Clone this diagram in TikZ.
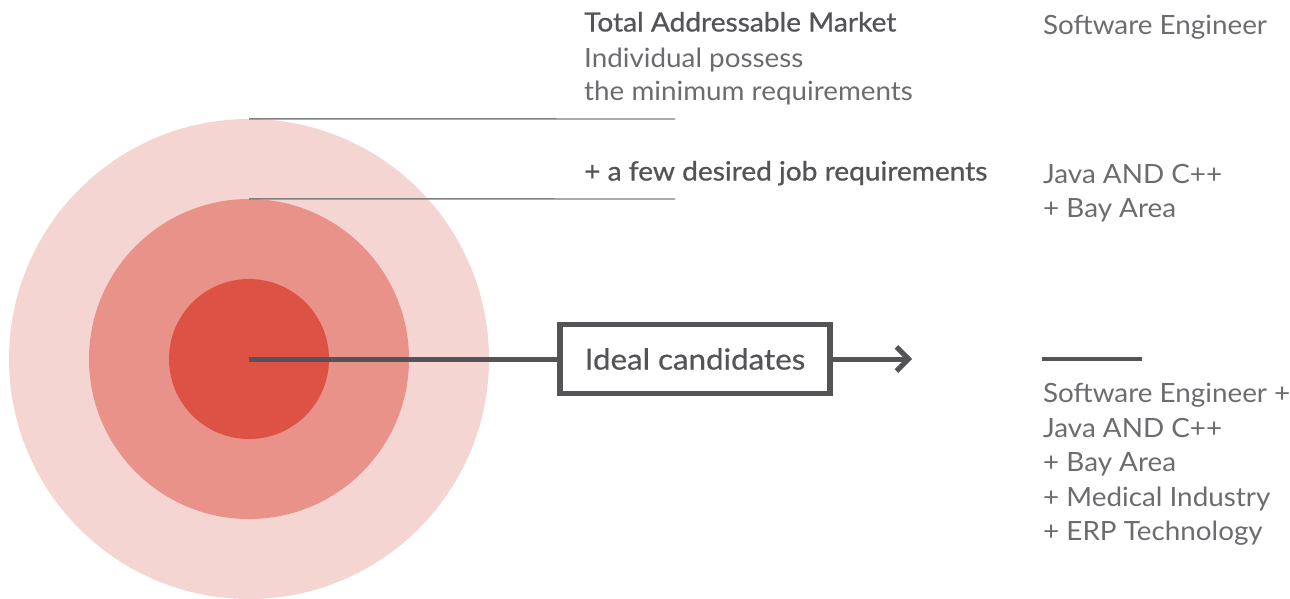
\documentclass[tikz,border=0pt]{standalone}
\usepackage{fontspec}
\setmainfont{Lato}
\newfontfamily\bodyfont{Lato}[FakeStretch=1.05]
\newfontfamily\strongfont{Lato}[FakeStretch=1.06,FakeBold=0.8]
\newfontfamily\boxfont{Lato}[FakeStretch=1.08,FakeBold=0.6]
\usetikzlibrary{arrows.meta}
\definecolor{ringouter}{HTML}{F5D5D1}
\definecolor{ringmid}{HTML}{E8928A}
\definecolor{ringinner}{HTML}{DD5244}
\definecolor{inkdark}{HTML}{545458}
\definecolor{inklight}{HTML}{6C6C70}
\definecolor{rule}{HTML}{808080}
\begin{document}
\begin{tikzpicture}[x=1pt,y=-1pt,
  txt/.style={anchor=base west,inner sep=0pt},
  lite/.style={txt,text=inklight,font=\bodyfont\fontsize{26.5}{34}\selectfont},
  strong/.style={txt,text=inkdark,font=\strongfont\fontsize{26.5}{34}\selectfont},
  thinrule/.style={draw=rule,line width=1.4pt},
  heavy/.style={draw=inkdark,line width=5pt},
  ring/.style={circle,inner sep=0pt,draw=none}]
\useasboundingbox (0,0) rectangle (1290,598);

% concentric target
\node[ring,fill=ringouter,minimum size=480pt] (outer) at (249,359) {};
\node[ring,fill=ringmid,minimum size=320pt] (mid) at (249,359) {};
\node[ring,fill=ringinner,minimum size=160pt] (inner) at (249,359) {};

% leader rules from the ring tops
\coordinate (r1) at (675,119);
\coordinate (r2) at (675,199);
\draw[thinrule] (outer.north) -- (r1);
\draw[thinrule] (mid.north) -- (r2);

% labels along the rules
\node[strong] (tam) at (584,31.5) {Total Addressable Market};
\node[lite] (tam2) at (584,67) {Individual possess};
\node[lite] (tam3) at (584,100.5) {the minimum requirements};
\node[strong] (few) at (584,180.5) {+ a few desired job requirements};

% example queries
\node[lite] (q1) at (1043,34) {Software Engineer};
\node[lite] (q2a) at (1043,183.5) {Java AND C++};
\node[lite] (q2b) at (1043,217.5) {+ Bay Area};
\node[lite] (q3a) at (1043,402.5) {Software Engineer +};
\node[lite] (q3b) at (1043,437) {Java AND C++};
\node[lite] (q3c) at (1043,471.5) {+ Bay Area};
\node[lite] (q3d) at (1043,506) {+ Medical Industry};
\node[lite] (q3e) at (1043,540.5) {+ ERP Technology};

% ideal candidates box and arrow
\node[draw=inkdark,line width=5.5pt,minimum width=270pt,minimum height=69pt,inner sep=0pt,
      text=inkdark,font=\boxfont\fontsize{29}{34}\selectfont] (ideal) at (695,359) {Ideal candidates};
\coordinate (tip) at (912,359);
\draw[heavy] (inner.center) -- (ideal.west);
\draw[heavy,-{Straight Barb[length=12pt,width=24pt]}] (ideal.east) -- (tip);

% short divider above the last query
\coordinate (d1) at (1042,359);
\coordinate (d2) at (1142,359);
\draw[draw=inkdark,line width=4.5pt] (d1) -- (d2);
\end{tikzpicture}
\end{document}
